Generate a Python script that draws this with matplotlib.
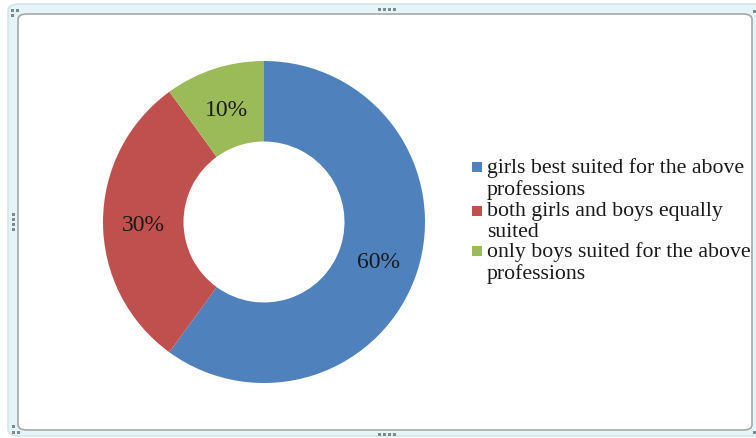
import matplotlib
matplotlib.use("Agg")
import matplotlib.pyplot as plt
from matplotlib.patches import FancyBboxPatch, Rectangle

labels = ["girls best suited for the above\nprofessions",
          "both girls and boys equally\nsuited",
          "only boys suited for the above\nprofessions"]
values = [60, 30, 10]
colors = ["#4F81BD", "#C0504D", "#9BBB59"]

plt.rcParams['font.family'] = ['Liberation Serif', 'DejaVu Serif']

W, H = 756, 439
fig = plt.figure(figsize=(W / 100, H / 100), dpi=100)

def px(x, y):
    # pixel (from top-left) to figure fraction
    return x / W, 1 - y / H

# frame like an Excel chart selection
outer = FancyBboxPatch((8 / W, 1 - 437 / H), 760 / W, 432 / H,
                       boxstyle="round,pad=0,rounding_size=0.015",
                       transform=fig.transFigure, facecolor="#e4f4f7",
                       edgecolor="#cfe3e7", lw=1, zorder=-3)
fig.patches.append(outer)
inner = FancyBboxPatch((18 / W, 1 - 431 / H), 734 / W, 416 / H,
                       boxstyle="round,pad=0,rounding_size=0.012",
                       transform=fig.transFigure, facecolor="white",
                       edgecolor="#a8a8a8", lw=1.2, zorder=-2)
fig.patches.append(inner)

# handle dots
dots = [(379 + 5 * i, 10) for i in range(4)] + [(379 + 5 * i, 435) for i in range(4)]
dots += [(13, 215 + 5 * i) for i in range(4)] + [(12, 11), (17, 11), (12, 16)]
dots += [(13, 427), (13, 433), (18, 433), (754, 12), (754, 433)]
for x, y in dots:
    fx, fy = px(x - 1.5, y + 1.5)
    fig.patches.append(Rectangle((fx, fy), 3 / W, 3 / H, transform=fig.transFigure,
                                 facecolor="#7a8a90", edgecolor="none", zorder=-1))

ax = fig.add_axes([103 / W, 1 - 384 / H, 322 / W, 322 / H])
ax.set_zorder(1)
wedges, texts, autotexts = ax.pie(values, colors=colors, startangle=90, counterclock=False,
                                  autopct="%d%%", pctdistance=0.75,
                                  wedgeprops=dict(width=0.5, linewidth=0),
                                  textprops=dict(fontsize=17, color="#1a1a1a"))
for t in autotexts:
    t.set_va("center_baseline")
ax.set_xlim(-1, 1)
ax.set_ylim(-1, 1)
ax.axis("off")

# legend
ys = [168, 212, 252]
for y, lab, c in zip(ys, labels, colors):
    fx, fy = px(472, y + 5)
    fig.patches.append(Rectangle((fx, fy), 10 / W, 10 / H, transform=fig.transFigure,
                                 facecolor=c, edgecolor="none", zorder=2))
    tx, ty = px(487, y - 10)
    fig.text(tx, ty, lab, fontsize=15.7, va="top", ha="left", linespacing=1.12,
             color="#1a1a1a", zorder=3)

fig.savefig("out.png", dpi=100)
